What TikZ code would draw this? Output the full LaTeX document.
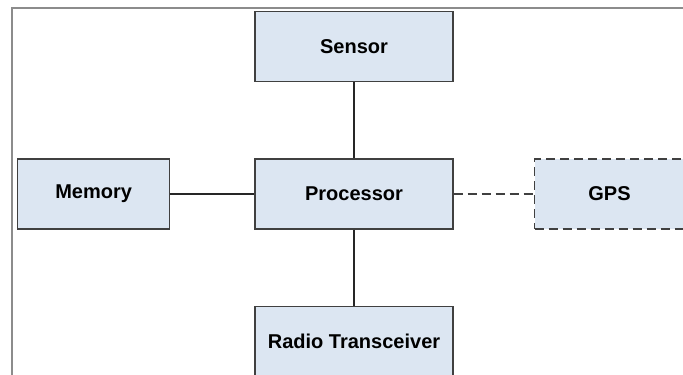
\documentclass[tikz,border=0pt]{standalone}
\usepackage{fontspec}
\setmainfont{Liberation Sans}
\usetikzlibrary{positioning}
\definecolor{boxfill}{HTML}{DCE6F2}
\definecolor{boxline}{HTML}{404040}
\definecolor{framegray}{HTML}{8C8C8C}

\begin{document}
\begin{tikzpicture}[
  x=0.5pt, y=-0.5pt,
  unit/.style={rectangle, draw=boxline, fill=boxfill, line width=0.7pt,
               minimum width=99pt, minimum height=35pt,
               font=\fontsize{10}{12}\selectfont\bfseries, align=center},
  optunit/.style={unit, line width=0.8pt, dash pattern=on 4.5pt off 2.5pt},
  link/.style={draw=black!85, line width=0.55pt},
  optlink/.style={draw=boxline, line width=0.8pt, dash pattern=on 4.5pt off 2.5pt},
  frame/.style={draw=framegray, line width=1pt}
]
  \useasboundingbox (0,0) rectangle (683,374);
  \draw[frame] (12,8) rectangle (720,420);

  \node[unit] (proc) at (354,194) {Processor};
  \node[unit, above=38pt of proc] (sensor) {Sensor};
  \node[unit, below=38pt of proc] (radio) {Radio Transceiver};
  \node[unit, minimum width=76pt, left=42pt of proc] (mem) {Memory};
  \node[optunit, minimum width=75pt, right=40pt of proc] (gps) {GPS};

  \draw[link] (sensor) -- (proc);
  \draw[link] (mem) -- (proc);
  \draw[link] (proc) -- (radio);
  \draw[optlink] (proc) -- (gps);
\end{tikzpicture}
\end{document}
